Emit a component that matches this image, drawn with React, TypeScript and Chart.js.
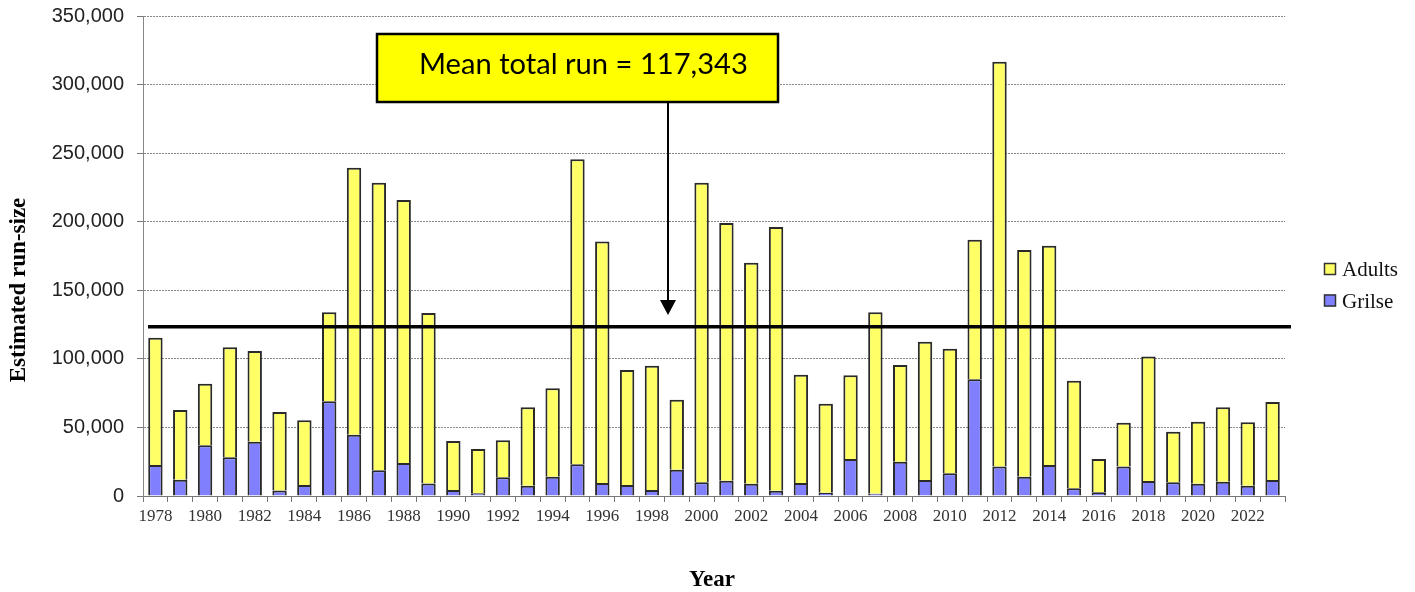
import React, { useEffect, useRef } from "react";
import { Chart, registerables } from "chart.js";
Chart.register(...registerables);

const years = [
  "1978", "1979", "1980", "1981", "1982", "1983", "1984", "1985", "1986", "1987",
  "1988", "1989", "1990", "1991", "1992", "1993", "1994", "1995", "1996", "1997",
  "1998", "1999", "2000", "2001", "2002", "2003", "2004", "2005", "2006", "2007",
  "2008", "2009", "2010", "2011", "2012", "2013", "2014", "2015", "2016", "2017",
  "2018", "2019", "2020", "2021", "2022", "2023",
];

const grilse = [
  22600, 11900, 37000, 28200, 39600, 4100, 8000, 69000, 44700, 18700,
  24000, 9200, 4400, 2000, 13600, 7500, 14100, 23100, 9500, 8000,
  4400, 19200, 10000, 11200, 9000, 3900, 9500, 2400, 27000, 1700,
  25000, 11700, 16500, 85100, 21600, 14100, 22600, 5600, 2700, 21600,
  10900, 10000, 9000, 10400, 7500, 11700,
];

const adults = [
  92800, 50800, 44900, 80200, 66100, 57200, 47200, 65000, 194700, 209800,
  191800, 124200, 35700, 32300, 27000, 57200, 64400, 222400, 176000, 83900,
  90600, 51000, 218500, 187800, 161100, 192300, 79000, 64900, 61000, 132300,
  70500, 100800, 90900, 101800, 295100, 165300, 159900, 78500, 24300, 31900,
  90900, 36900, 45200, 54300, 46200, 56800,
];

const meanLineValue = 123500;
const annotationText = "Mean total run = 117,343";
const yTitle = "Estimated run-size";
const xTitle = "Year";
const legendItems = [
  { label: "Adults", color: "#FFFF66" },
  { label: "Grilse", color: "#8080FF" },
];

const overlayPlugin = {
  id: "overlay",
  afterDatasetsDraw(chart: any) {
    const { ctx, chartArea, scales } = chart;
    const y = scales.y.getPixelForValue(meanLineValue);
    ctx.save();
    // mean line
    ctx.strokeStyle = "#000";
    ctx.lineWidth = 3.5;
    ctx.beginPath();
    ctx.moveTo(chartArea.left + 5, y);
    ctx.lineTo(chartArea.right + 6, y);
    ctx.stroke();

    // annotation box
    const bx = 377, by = 34, bw = 401, bh = 68;
    ctx.fillStyle = "#FFFF00";
    ctx.fillRect(bx, by, bw, bh);
    ctx.lineWidth = 2.5;
    ctx.strokeStyle = "#000";
    ctx.strokeRect(bx, by, bw, bh);
    let size = 28;
    ctx.font = `${size}px Lato, "Noto Sans", sans-serif`;
    const w = ctx.measureText(annotationText).width;
    size = size * 329 / w;
    ctx.font = `${size}px Lato, "Noto Sans", sans-serif`;
    ctx.fillStyle = "#000";
    ctx.textAlign = "left";
    ctx.textBaseline = "alphabetic";
    ctx.fillText(annotationText, 419, 74);

    // arrow
    const ax = 668;
    ctx.lineWidth = 2;
    ctx.beginPath();
    ctx.moveTo(ax, by + bh);
    ctx.lineTo(ax, 302);
    ctx.stroke();
    ctx.beginPath();
    ctx.moveTo(ax - 8, 300);
    ctx.lineTo(ax + 8, 300);
    ctx.lineTo(ax, 315);
    ctx.closePath();
    ctx.fill();
    ctx.restore();
  },
  afterDraw(chart: any) {
    const { ctx } = chart;
    ctx.save();
    ctx.fillStyle = "#000";
    // y title
    ctx.font = 'bold 23px "Liberation Serif", "Times New Roman", serif';
    ctx.textAlign = "center";
    ctx.textBaseline = "middle";
    ctx.translate(19, 290);
    ctx.rotate(-Math.PI / 2);
    ctx.fillText(yTitle, 0, 0);
    ctx.restore();

    ctx.save();
    ctx.fillStyle = "#000";
    ctx.font = 'bold 23px "Liberation Serif", "Times New Roman", serif';
    ctx.textAlign = "center";
    ctx.textBaseline = "alphabetic";
    ctx.fillText(xTitle, 712, 586);

    // legend
    ctx.font = '21px "Liberation Serif", "Times New Roman", serif';
    ctx.textAlign = "left";
    const rows = [263, 294.5];
    legendItems.forEach((it, i) => {
      const top = rows[i];
      ctx.fillStyle = it.color;
      ctx.fillRect(1324, top, 12, 12);
      ctx.strokeStyle = "#333";
      ctx.lineWidth = 1.5;
      ctx.strokeRect(1324.5, top + 0.5, 11, 11);
      ctx.fillStyle = "#111";
      ctx.fillText(it.label, 1342, top + 13);
    });
    ctx.restore();
  },
};

export default function App() {
  const ref = useRef<HTMLCanvasElement>(null);
  useEffect(() => {
    document.body.style.margin = "0";
    document.body.style.overflow = "hidden";
    const chart = new Chart(ref.current as HTMLCanvasElement, {
      type: "bar",
      data: {
        labels: years,
        datasets: [
          {
            label: "Grilse",
            data: grilse,
            backgroundColor: "#8080FF",
            borderColor: "#2a2a2a",
            borderWidth: 2,
            barPercentage: 0.58,
            categoryPercentage: 1,
          },
          {
            label: "Adults",
            data: adults,
            backgroundColor: "#FFFF66",
            borderColor: "#2a2a2a",
            borderWidth: 2,
            barPercentage: 0.58,
            categoryPercentage: 1,
          },
        ],
      },
      options: {
        responsive: false,
        animation: false,
        devicePixelRatio: 1,
        layout: { padding: { left: 0, right: 130, top: 16, bottom: 0 } },
        plugins: {
          legend: { display: false },
          tooltip: { enabled: false },
        },
        scales: {
          x: {
            stacked: true,
            grid: {
              display: true,
              drawOnChartArea: false,
              drawTicks: true,
              tickLength: 6,
              color: "#777",
              offset: true,
            },
            border: { display: true, color: "#777", width: 1 },
            ticks: {
              autoSkip: false,
              maxRotation: 0,
              minRotation: 0,
              padding: 4,
              color: "#333",
              font: { family: '"Liberation Serif", "Times New Roman", serif', size: 17 },
              callback: (_v: any, i: number) => (i % 2 === 0 ? years[i] : ""),
            },
            afterFit: (s: any) => {
              s.height = 96;
              s.paddingLeft = 0;
              s.paddingRight = 0;
            },
          },
          y: {
            stacked: true,
            min: 0,
            max: 350000,
            grid: {
              color: "#888",
              lineWidth: 1,
              tickLength: 6,
              tickColor: "#777",
              tickBorderDash: [],
            },
            border: { display: true, color: "#888", width: 1, dash: [2, 1] },
            ticks: {
              stepSize: 50000,
              padding: 13,
              color: "#222",
              font: { family: '"Liberation Sans", Arial, sans-serif', size: 20 },
              callback: (v: any) => Number(v).toLocaleString("en-US"),
            },
            afterFit: (s: any) => {
              s.width = 143;
              s.paddingTop = 0;
              s.paddingBottom = 0;
            },
          },
        },
      },
      plugins: [overlayPlugin],
    } as any);
    return () => chart.destroy();
  }, []);
  return <canvas ref={ref} width={1415} height={592} style={{ display: "block" }} />;
}
